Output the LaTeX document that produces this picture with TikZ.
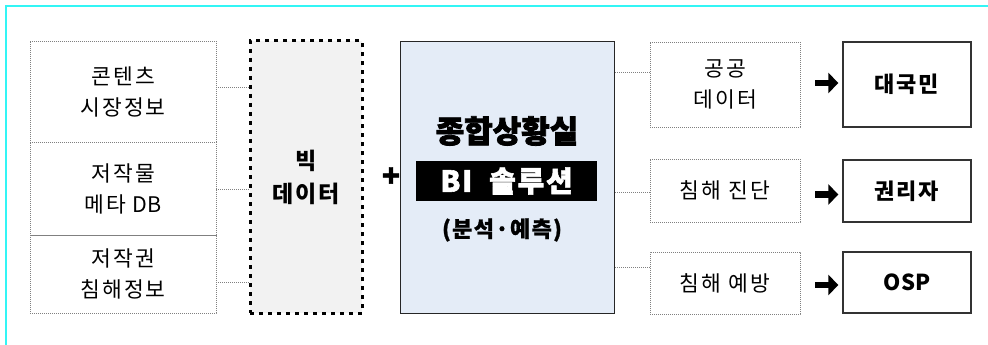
\documentclass[tikz,border=0pt]{standalone}
\usepackage{fontspec}
\setmainfont{Noto Sans CJK KR}
\usetikzlibrary{arrows.meta}
\definecolor{frameC}{HTML}{33F5F5}
\definecolor{centerF}{HTML}{E4ECF7}
\definecolor{bigF}{HTML}{F2F2F2}
\definecolor{dotC}{HTML}{808080}
\begin{document}
\begin{tikzpicture}[x=1pt,y=-1pt,
  dotline/.style={draw=dotC,line width=0.8pt,dash pattern=on 0.9pt off 1.1pt},
  srcbox/.style={dotline,minimum width=186pt,align=center,inner sep=0pt,
     font=\fontsize{21.5}{31}\selectfont\addfontfeature{LetterSpace=10}},
  conn/.style={dotline},
  midbox/.style={dotline,minimum width=150pt,align=center,inner sep=0pt,
     font=\fontsize{21.5}{31}\selectfont\addfontfeature{LetterSpace=10}},
  outbox/.style={draw=black!80,line width=1.3pt,minimum width=128pt,align=center,inner sep=0pt,
     font=\bfseries\fontsize{22}{26}\selectfont\addfontfeature{LetterSpace=8}},
  outarrow/.style={line width=6.5pt,-{Triangle[length=10pt,width=20pt]}},
]
\useasboundingbox (0,0) rectangle (988,345);
\fill[white] (0,0) rectangle (988,345);
\draw[frameC,line width=2.5pt] (6,345) -- (6,6) -- (988,6);

% left source boxes
\node[srcbox,minimum height=101pt] (l1) at (123,91.5) {콘텐츠\\시장정보};
\node[srcbox,minimum height=93pt] (l2) at (123,188.5) {저작물\\메타 {\addfontfeature{LetterSpace=0}DB}};
\node[srcbox,minimum height=78pt] (l3) at (123,274) {저작권\\침해정보};

% big data
\node[draw=black,fill=bigF,line width=3pt,dash pattern=on 4pt off 5pt,minimum width=112pt,minimum height=272pt,
      align=center,inner sep=0pt,font=\bfseries\fontsize{23}{33}\selectfont\addfontfeature{LetterSpace=8}] (bd) at (306,177) {빅\\데이터};

\draw[conn] ([yshift=4.5pt]l1.east) -- ([yshift=4.5pt]l1.east -| bd.west);
\draw[conn] ([yshift=-0.5pt]l2.east) -- ([yshift=-0.5pt]l2.east -| bd.west);
\draw[conn] ([yshift=-8pt]l3.east) -- ([yshift=-8pt]l3.east -| bd.west);

\node[font=\bfseries\fontsize{30}{30}\selectfont\addfontfeature{FakeBold=1.5}] (plus) at (391,177) {+};

% center
\node[draw=black!85,fill=centerF,line width=1pt,minimum width=214pt,minimum height=271pt] (c) at (507,177.5) {};
\node[font=\fontsize{31}{31}\selectfont\bfseries\addfontfeature{FakeBold=2.5},inner sep=0pt] (t1) at (507,131) {종합상황실};
\node[fill=black,text=white,minimum width=181pt,minimum height=40pt,inner sep=0pt,
      font=\bfseries\fontsize{29}{29}\selectfont\addfontfeature{FakeBold=2,LetterSpace=6}] (bi) at (506.5,181) {BI\ \ 솔루션};
\node[font=\bfseries\fontsize{22}{22}\selectfont\addfontfeature{LetterSpace=6,FakeBold=1},inner sep=0pt] (t3) at (502,230) {(분석·예측)};

% middle boxes
\node[midbox,minimum height=85pt] (m1) at (725,84.5) {공공\\데이터};
\node[midbox,minimum height=63pt] (m2) at (725,190.5) {침해 진단};
\node[midbox,minimum height=62pt] (m3) at (725,283) {침해 예방};

\draw[conn] ([yshift=12.5pt]m1.west) -- ([yshift=12.5pt]m1.west -| c.east);
\draw[conn] ([yshift=-1.5pt]m2.west) -- ([yshift=-1.5pt]m2.west -| c.east);
\draw[conn] ([yshift=16pt]m3.west) -- ([yshift=16pt]m3.west -| c.east);

% output boxes
\node[outbox,minimum height=85pt] (r1) at (907,84.5) {대국민};
\node[outbox,minimum height=62pt] (r2) at (907,191) {권리자};
\node[outbox,minimum height=61pt] (r3) at (907,282.5) {{\addfontfeature{LetterSpace=0}OSP}};

\draw[outarrow] ([xshift=15pt,yshift=1.5pt]m1.east) -- ([xshift=-4pt,yshift=1.5pt]m1.east -| r1.west);
\draw[outarrow] ([xshift=15pt,yshift=-4pt]m2.east) -- ([xshift=-4pt,yshift=-4pt]m2.east -| r2.west);
\draw[outarrow] ([xshift=15pt,yshift=-2pt]m3.east) -- ([xshift=-4pt,yshift=-2pt]m3.east -| r3.west);
\end{tikzpicture}
\end{document}
